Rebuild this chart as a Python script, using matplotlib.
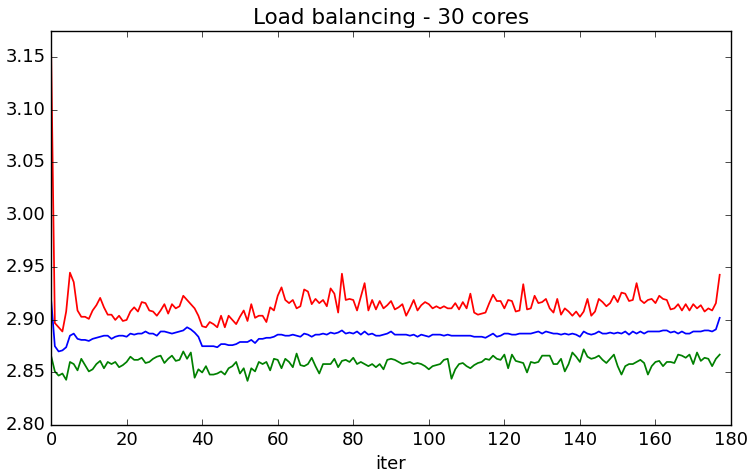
import matplotlib
matplotlib.use("Agg")
import matplotlib.pyplot as plt

# average time per iteration for the three load-balancing runs (178 iterations)
red_times = [
    3.160, 2.897, 2.893, 2.889, 2.908, 2.945, 2.936, 2.909, 2.903, 2.903,
    2.901, 2.909, 2.914, 2.921, 2.912, 2.905, 2.905, 2.900, 2.904, 2.899,
    2.900, 2.908, 2.912, 2.908, 2.917, 2.916, 2.909, 2.908, 2.904, 2.909,
    2.915, 2.906, 2.915, 2.911, 2.913, 2.923, 2.919, 2.915, 2.911, 2.904,
    2.894, 2.893, 2.898, 2.896, 2.893, 2.904, 2.893, 2.904, 2.900, 2.896,
    2.903, 2.909, 2.899, 2.915, 2.902, 2.904, 2.904, 2.898, 2.912, 2.909,
    2.923, 2.931, 2.919, 2.916, 2.919, 2.911, 2.913, 2.929, 2.927, 2.915,
    2.920, 2.916, 2.919, 2.913, 2.930, 2.925, 2.907, 2.944, 2.919, 2.920,
    2.919, 2.909, 2.922, 2.935, 2.909, 2.919, 2.910, 2.918, 2.911, 2.914,
    2.918, 2.910, 2.912, 2.915, 2.904, 2.911, 2.919, 2.909, 2.914, 2.917,
    2.915, 2.911, 2.913, 2.911, 2.913, 2.911, 2.911, 2.916, 2.910, 2.917,
    2.911, 2.925, 2.907, 2.905, 2.906, 2.907, 2.916, 2.924, 2.918, 2.918,
    2.911, 2.919, 2.918, 2.908, 2.909, 2.934, 2.910, 2.911, 2.923, 2.916,
    2.917, 2.920, 2.911, 2.907, 2.920, 2.905, 2.911, 2.908, 2.904, 2.908,
    2.903, 2.908, 2.920, 2.904, 2.908, 2.920, 2.917, 2.913, 2.916, 2.923,
    2.917, 2.926, 2.925, 2.918, 2.919, 2.935, 2.919, 2.916, 2.919, 2.920,
    2.916, 2.923, 2.920, 2.919, 2.910, 2.911, 2.915, 2.909, 2.915, 2.909,
    2.915, 2.911, 2.914, 2.908, 2.911, 2.909, 2.916, 2.943,
]
blue_times = [
    2.920, 2.875, 2.870, 2.871, 2.874, 2.885, 2.887, 2.882, 2.881, 2.881,
    2.880, 2.882, 2.883, 2.884, 2.885, 2.885, 2.882, 2.884, 2.885, 2.885,
    2.884, 2.887, 2.886, 2.887, 2.887, 2.889, 2.887, 2.887, 2.885, 2.889,
    2.889, 2.888, 2.887, 2.888, 2.889, 2.890, 2.893, 2.891, 2.888, 2.884,
    2.875, 2.875, 2.875, 2.875, 2.874, 2.877, 2.877, 2.876, 2.876, 2.877,
    2.879, 2.879, 2.879, 2.881, 2.878, 2.882, 2.882, 2.883, 2.883, 2.884,
    2.886, 2.886, 2.885, 2.885, 2.886, 2.885, 2.884, 2.887, 2.886, 2.884,
    2.886, 2.886, 2.887, 2.886, 2.888, 2.887, 2.888, 2.890, 2.887, 2.888,
    2.887, 2.889, 2.886, 2.889, 2.886, 2.887, 2.885, 2.885, 2.886, 2.887,
    2.889, 2.886, 2.886, 2.886, 2.886, 2.885, 2.886, 2.884, 2.886, 2.885,
    2.884, 2.886, 2.886, 2.886, 2.885, 2.886, 2.885, 2.885, 2.885, 2.885,
    2.885, 2.885, 2.884, 2.884, 2.884, 2.883, 2.885, 2.887, 2.884, 2.885,
    2.887, 2.887, 2.886, 2.886, 2.887, 2.887, 2.887, 2.887, 2.888, 2.889,
    2.887, 2.889, 2.888, 2.887, 2.887, 2.886, 2.887, 2.886, 2.887, 2.886,
    2.884, 2.889, 2.887, 2.886, 2.887, 2.889, 2.887, 2.887, 2.888, 2.887,
    2.888, 2.887, 2.889, 2.886, 2.889, 2.887, 2.889, 2.887, 2.889, 2.889,
    2.889, 2.889, 2.890, 2.890, 2.888, 2.889, 2.887, 2.889, 2.887, 2.887,
    2.889, 2.889, 2.889, 2.890, 2.890, 2.889, 2.891, 2.902,
]
green_times = [
    2.866, 2.851, 2.847, 2.849, 2.843, 2.860, 2.858, 2.852, 2.863, 2.857,
    2.851, 2.853, 2.858, 2.861, 2.854, 2.860, 2.858, 2.860, 2.855, 2.857,
    2.860, 2.865, 2.862, 2.862, 2.864, 2.859, 2.860, 2.863, 2.865, 2.866,
    2.859, 2.863, 2.866, 2.861, 2.862, 2.870, 2.863, 2.869, 2.845, 2.853,
    2.850, 2.856, 2.848, 2.848, 2.849, 2.851, 2.848, 2.854, 2.856, 2.860,
    2.849, 2.854, 2.842, 2.854, 2.851, 2.860, 2.858, 2.860, 2.852, 2.863,
    2.862, 2.854, 2.863, 2.860, 2.855, 2.868, 2.857, 2.856, 2.858, 2.864,
    2.856, 2.849, 2.858, 2.858, 2.858, 2.863, 2.855, 2.861, 2.862, 2.860,
    2.864, 2.858, 2.860, 2.858, 2.856, 2.858, 2.855, 2.858, 2.853, 2.862,
    2.863, 2.862, 2.860, 2.858, 2.859, 2.860, 2.858, 2.859, 2.858, 2.856,
    2.853, 2.856, 2.857, 2.858, 2.862, 2.863, 2.844, 2.853, 2.858, 2.859,
    2.856, 2.854, 2.857, 2.859, 2.860, 2.863, 2.862, 2.866, 2.863, 2.862,
    2.867, 2.854, 2.867, 2.861, 2.860, 2.859, 2.850, 2.860, 2.859, 2.860,
    2.866, 2.866, 2.866, 2.858, 2.858, 2.863, 2.851, 2.858, 2.869, 2.865,
    2.860, 2.872, 2.865, 2.863, 2.864, 2.866, 2.862, 2.859, 2.863, 2.867,
    2.856, 2.848, 2.856, 2.858, 2.858, 2.860, 2.862, 2.859, 2.848, 2.856,
    2.860, 2.861, 2.856, 2.860, 2.860, 2.859, 2.867, 2.866, 2.864, 2.867,
    2.858, 2.869, 2.861, 2.864, 2.863, 2.856, 2.863, 2.867,
]
iters = list(range(len(red_times)))

plt.style.use("classic")

fig = plt.figure(figsize=(7.51, 4.72), dpi=100, facecolor="white")
ax = fig.add_axes([0.068, 0.0996, 0.9054, 0.8347])

ax.plot(iters, red_times, color="r", linewidth=1.25)
ax.plot(iters, blue_times, color="b", linewidth=1.25)
ax.plot(iters, green_times, color="g", linewidth=1.25)

ax.set_xlim(0, 180)
ax.set_ylim(2.80, 3.175)
ax.set_title("Load balancing - 30 cores", fontsize=15.5)
ax.set_xlabel("iter", fontsize=13)
ax.tick_params(labelsize=13)

fig.savefig("out.png", dpi=100, facecolor="white")
